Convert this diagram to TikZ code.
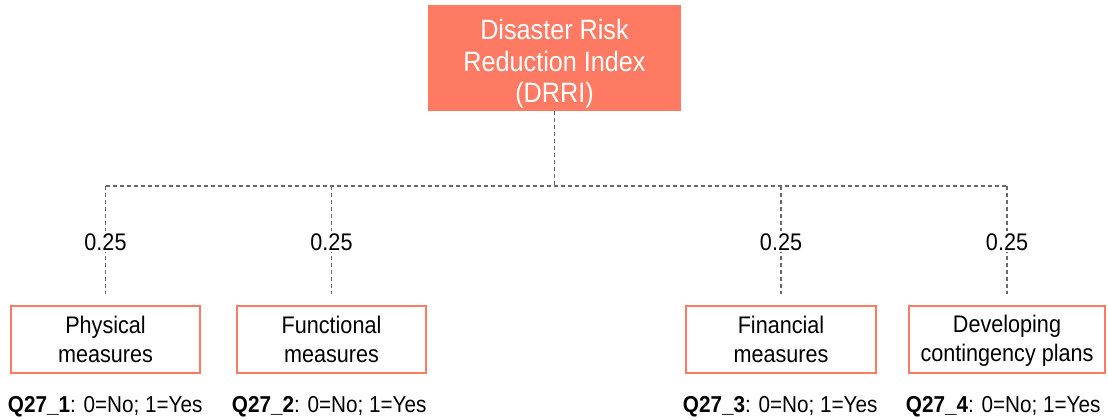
\documentclass[tikz,border=0pt]{standalone}
\usepackage{fontspec}
\setmainfont[FakeStretch=0.9]{Liberation Sans}
\usetikzlibrary{positioning}
\definecolor{salmon}{RGB}{255,122,99}
\definecolor{linkgray}{RGB}{105,105,105}
\tikzset{
  indexbox/.style={fill=salmon, minimum width=253pt, minimum height=106pt, inner sep=0pt},
  indextext/.style={text=white, inner sep=0pt, align=center, font=\fontsize{28}{31.5}\selectfont},
  measure/.style={draw=salmon, line width=2.5pt, minimum height=67pt, inner sep=0pt,
    align=center, font=\fontsize{24}{28.5}\selectfont},
  link/.style={draw=linkgray, line width=1.1pt, dash pattern=on 4pt off 3pt},
  weight/.style={fill=white, inner sep=2pt, font=\fontsize{24}{28}\selectfont},
  coding/.style={inner sep=0pt, font=\fontsize{23}{27}\selectfont}
}

\begin{document}
\begin{tikzpicture}[x=1pt,y=-1pt]
\useasboundingbox (0,0) rectangle (1108,420);
\node[indexbox] (drri) at (554.5,58) {};
\node[indextext] (drrilabel) at ([yshift=-6pt]drri.center) {Disaster Risk\\Reduction Index\\(DRRI)};
\node[measure, minimum width=189pt] (phys) at (105.5,339.5) {Physical\\measures};
\node[measure, minimum width=189pt] (func) at (331.5,339.5) {Functional\\measures};
\node[measure, minimum width=190pt] (fin) at (781,339.5) {Financial\\measures};
\node[measure, minimum width=196pt] (plan) at (1007,339.5) {\strut Developing\\contingency plans};
\coordinate (bus) at (555,186);
\draw[link] (drri.south) -- (drri.south |- bus);
\draw[link] (phys.north |- bus) -- (plan.north |- bus);
\foreach \m in {phys,func,fin,plan}
  \draw[link, shorten >=11pt] (\m.north |- bus) -- (\m.north) node[weight, pos=0.47] {0.25};
% answer codes under the boxes
\node[coding, below right=22pt and -2pt of phys.south west] (q1) {\textbf{Q27\_1}: 0=No; 1=Yes};
\node[coding, below right=22pt and -4pt of func.south west] (q2) {\textbf{Q27\_2}: 0=No; 1=Yes};
\node[coding, below right=22pt and -2pt of fin.south west] (q3) {\textbf{Q27\_3}: 0=No; 1=Yes};
\node[coding, below right=22pt and -2pt of plan.south west] (q4) {\textbf{Q27\_4}: 0=No; 1=Yes};
\end{tikzpicture}
\end{document}
